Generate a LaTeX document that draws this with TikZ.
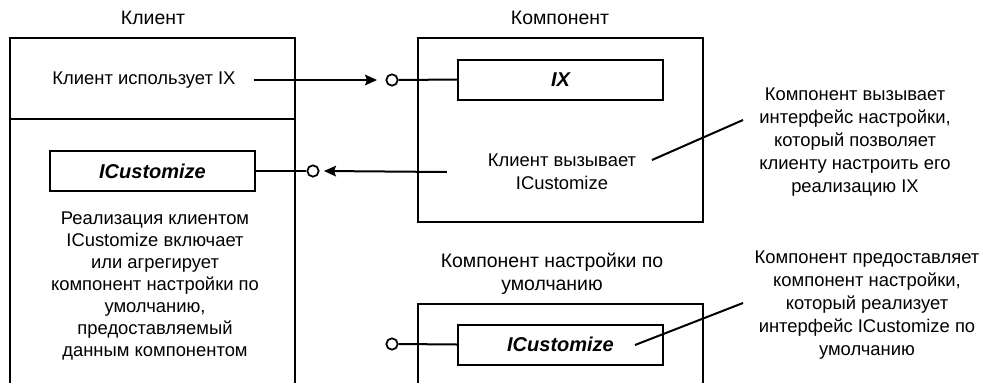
\documentclass[tikz,border=0pt]{standalone}
\usepackage{fontspec}
\setmainfont{Liberation Sans}
\usetikzlibrary{arrows.meta}

\begin{document}
\begin{tikzpicture}[x=0.75pt,y=-0.75pt,line width=1.5pt,
    font=\fontsize{13.8}{17.2}\selectfont,>={Stealth[length=9pt,width=8pt,inset=1.5pt]}]
    \tikzset{
        iface/.style={
            draw,minimum width=153.75pt,minimum height=30pt,inner sep=0pt,
            font=\fontsize{15}{18}\selectfont\bfseries\itshape
        },
        title/.style={align=center,font=\fontsize{14.6}{17.4}\selectfont},
        pin/.style={draw,circle,fill=white,minimum size=8.5pt,inner sep=0pt,line width=1.3pt},
        note/.style={align=center,inner sep=1pt},
        flow/.style={->},
        lead/.style={line width=1.5pt}
    }
    \useasboundingbox (0,0) rectangle (983,383);

    % client
    \node[title] (clientlbl) at (153,18) {Клиент};
    \draw (10,383) -- (10,38) -- (295,38) -- (295,383);
    \draw (10,119) -- (295,119);
    \node[note] (usesix) at (144,80) {Клиент использует IX};
    \node[iface] (custc) at (152.5,171) {ICustomize};
    \node[note,font=\fontsize{13.8}{16.6}\selectfont] (impl) at (155,286)
        {Реализация клиентом\\ICustomize включает\\или агрегирует\\компонент настройки по\\умолчанию,\\предоставляемый\\данным компонентом};
    \node[pin] (custpin) at (313,171) {};
    \draw (custc.east) -- (custpin.west);

    % component
    \node[title] (complbl) at (560,18) {Компонент};
    \node[draw,minimum width=213.75pt,minimum height=138pt,inner sep=0pt] (compbox) at (560.5,130) {};
    \node[iface] (ix) at (560.5,79.5) {IX};
    \node[pin] (ixpin) at (392,80) {};
    \draw (ixpin.east) -- (ix.west);
    \node[note] (callscust) at (562,172) {Клиент вызывает\\ICustomize};
    \coordinate (ixtip) at (377,80);
    \coordinate (custtip) at (324,171);
    \draw[flow] (usesix.east) ++(12pt,0) -- (ixtip);
    \draw[flow] (callscust.west) ++(-29pt,0) -- (custtip);

    \node[note] (note1) at (855,142)
        {Компонент вызывает\\интерфейс настройки,\\который позволяет\\клиенту настроить его\\реализацию IX};
    \coordinate (note1a) at (652,160);
    \coordinate (note1b) at (743,120);
    \draw[lead] (note1a) -- (note1b);

    % default customize component
    \node[title] (dfltlbl) at (552,274) {Компонент настройки по\\умолчанию};
    \draw (418,383) -- (418,304) -- (703,304) -- (703,383);
    \node[iface] (custd) at (560.5,344.5) {ICustomize};
    \node[pin] (dfltpin) at (392,344) {};
    \draw (dfltpin.east) -- (custd.west);

    \node[note] (note2) at (867,305)
        {Компонент предоставляет\\компонент настройки,\\который реализует\\интерфейс ICustomize по\\умолчанию};
    \coordinate (note2a) at (635,345);
    \coordinate (note2b) at (743,303);
    \draw[lead] (note2a) -- (note2b);
\end{tikzpicture}
\end{document}
